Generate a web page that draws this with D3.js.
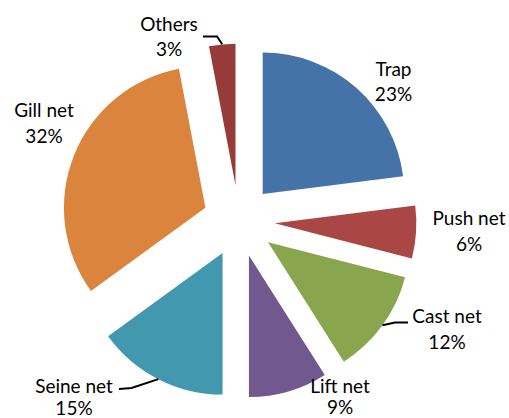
<!DOCTYPE html>
<html>
<head>
<meta charset="utf-8">
<script src="https://cdn.jsdelivr.net/npm/d3@7"></script>
<style>
  html, body { margin: 0; padding: 0; background: #fff; }
  .lbl { font-family: Lato, "Open Sans", sans-serif; font-size: 19px; fill: #000; }
</style>
</head>
<body>
<svg id="chart"></svg>
<script>
// Fishing gear share (%)
const categories = ['Trap', 'Push net', 'Cast net', 'Lift net', 'Seine net', 'Gill net', 'Others'];
const shares = [23, 6, 12, 9, 15, 32, 3];
const colors = ['#4572A7', '#AA4643', '#89A54E', '#71588F', '#4198AF', '#DB843D', '#963B38'];

// hand-placed labels (centre x, first baseline, line gap), like the original chart
const labelPos = {
  'Trap': [393.5, 75.5, 25.5],
  'Push net': [469, 225, 25.5],
  'Cast net': [447, 323.3, 25.5],
  'Lift net': [340, 392.7, 21.5],
  'Seine net': [74, 393, 21.5],
  'Gill net': [44, 117.3, 25.5],
  'Others': [169, 30.7, 25.5]
};
// leader lines: elbow and end point (start is the slice's outer midpoint)
const leaders = {
  'Others': [[217, 36.5], [203, 36.5]],
  'Cast net': [[395, 322.5], [408, 322.5]],
  'Seine net': [[131.5, 388], [119, 389]]
};

const width = 509, height = 418;
const cx = 238.9, cy = 221, radius = 141.5, explode = 36;

const svg = d3.select('#chart')
    .attr('width', width)
    .attr('height', height);

const pie = d3.pie().sort(null).value(d => d.value);
const arc = d3.arc().innerRadius(0).outerRadius(radius);

const data = categories.map((c, i) => ({name: c, value: shares[i], color: colors[i]}));
const arcs = pie(data);

const chart = svg.append('g')
    .attr('transform', `translate(${cx},${cy})`);

const offset = d => {
  const a = (d.startAngle + d.endAngle) / 2;
  return [explode * Math.sin(a), -explode * Math.cos(a)];
};

chart.selectAll('.slice')
    .data(arcs)
  .join('path')
    .attr('class', 'slice')
    .attr('d', arc)
    .attr('fill', d => d.data.color)
    .attr('transform', d => `translate(${offset(d)})`);

// leader lines
arcs.filter(d => leaders[d.data.name]).forEach(d => {
  const a = (d.startAngle + d.endAngle) / 2;
  const o = offset(d);
  const start = [cx + o[0] + radius * Math.sin(a), cy + o[1] - radius * Math.cos(a)];
  const pts = [start].concat(leaders[d.data.name]);
  svg.append('path')
      .attr('d', d3.line()(pts))
      .attr('fill', 'none')
      .attr('stroke', '#000')
      .attr('stroke-width', 2);
});

// labels
const labels = svg.selectAll('.lbl')
    .data(arcs)
  .join('text')
    .attr('class', 'lbl')
    .attr('text-anchor', 'middle')
    .attr('x', d => labelPos[d.data.name][0])
    .attr('y', d => labelPos[d.data.name][1]);

labels.append('tspan')
    .attr('x', d => labelPos[d.data.name][0])
    .text(d => d.data.name);

labels.append('tspan')
    .attr('x', d => labelPos[d.data.name][0])
    .attr('dy', d => labelPos[d.data.name][2])
    .text(d => d.data.value + '%');
</script>
</body>
</html>
